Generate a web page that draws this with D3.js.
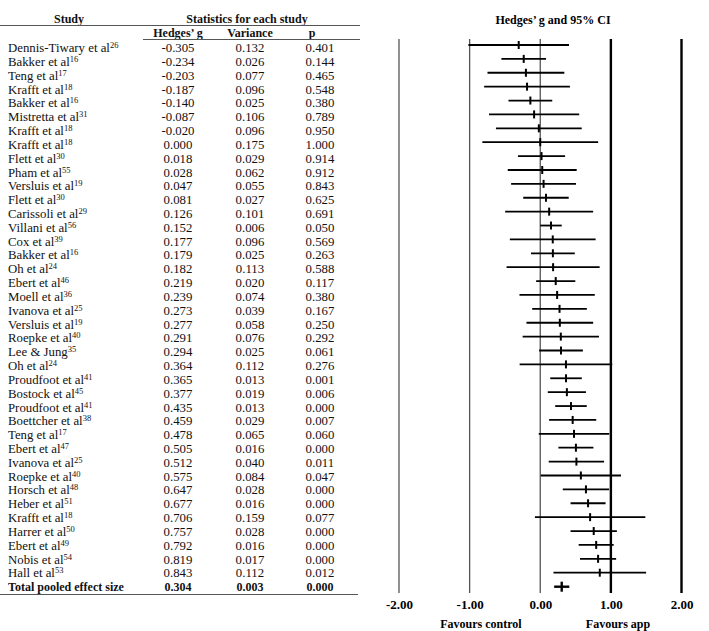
<!DOCTYPE html>
<html>
<head>
<meta charset="utf-8">
<script src="https://cdn.jsdelivr.net/npm/d3@7"></script>
<style>
  body { margin: 0; background: #fff; }
  svg { font-family: "Liberation Serif", "Times New Roman", serif; }
</style>
</head>
<body>
<div id="chart"></div>
<script>
const studies = [
    "Dennis-Tiwary et al", "Bakker et al", "Teng et al", "Krafft et al", "Bakker et al",
    "Mistretta et al", "Krafft et al", "Krafft et al", "Flett et al", "Pham et al",
    "Versluis et al", "Flett et al", "Carissoli et al", "Villani et al", "Cox et al",
    "Bakker et al", "Oh et al", "Ebert et al", "Moell et al", "Ivanova et al",
    "Versluis et al", "Roepke et al", "Lee & Jung", "Oh et al", "Proudfoot et al",
    "Bostock et al", "Proudfoot et al", "Boettcher et al", "Teng et al", "Ebert et al",
    "Ivanova et al", "Roepke et al", "Horsch et al", "Heber et al", "Krafft et al",
    "Harrer et al", "Ebert et al", "Nobis et al", "Hall et al"
];
const refs = [
    "26", "16", "17", "18", "16", "31", "18", "18", "30", "55",
    "19", "30", "29", "56", "39", "16", "24", "46", "36", "25",
    "19", "40", "35", "24", "41", "45", "41", "38", "17", "47",
    "25", "40", "48", "51", "18", "50", "49", "54", "53"
];
const hedgesG = [
    -0.305, -0.234, -0.203, -0.187, -0.140, -0.087, -0.020, 0.000, 0.018, 0.028,
    0.047, 0.081, 0.126, 0.152, 0.177, 0.179, 0.182, 0.219, 0.239, 0.273,
    0.277, 0.291, 0.294, 0.364, 0.365, 0.377, 0.435, 0.459, 0.478, 0.505,
    0.512, 0.575, 0.647, 0.677, 0.706, 0.757, 0.792, 0.819, 0.843
];
const variances = [
    0.132, 0.026, 0.077, 0.096, 0.025, 0.106, 0.096, 0.175, 0.029, 0.062,
    0.055, 0.027, 0.101, 0.006, 0.096, 0.025, 0.113, 0.020, 0.074, 0.039,
    0.058, 0.076, 0.025, 0.112, 0.013, 0.019, 0.013, 0.029, 0.065, 0.016,
    0.040, 0.084, 0.028, 0.016, 0.159, 0.028, 0.016, 0.017, 0.112
];
const pValues = [
    0.401, 0.144, 0.465, 0.548, 0.380, 0.789, 0.950, 1.000, 0.914, 0.912,
    0.843, 0.625, 0.691, 0.050, 0.569, 0.263, 0.588, 0.117, 0.380, 0.167,
    0.250, 0.292, 0.061, 0.276, 0.001, 0.006, 0.000, 0.007, 0.060, 0.000,
    0.011, 0.047, 0.000, 0.000, 0.077, 0.000, 0.000, 0.000, 0.012
];
const pooled = { label: "Total pooled effect size", g: 0.304, variance: 0.003, p: 0.000 };
const xTicks = [-2, -1, 0, 1, 2];

const data = studies.map((s, i) => ({
    study: s,
    ref: refs[i],
    g: hedgesG[i],
    variance: variances[i],
    p: pValues[i]
}));
// 95% CI from the variance
const ci = d => {
    const half = 1.96 * Math.sqrt(d.variance);
    return [d.g - half, d.g + half];
};

const width = 709;
const height = 631;

const svg = d3.select("#chart")
    .append("svg")
    .attr("width", width)
    .attr("height", height);

// plot rows
const y = d3.scalePoint()
    .domain(d3.range(data.length))
    .range([45, 572.7]);
// table rows (text centres)
const yText = d3.scalePoint()
    .domain(d3.range(data.length))
    .range([47.7, 573]);

const x = d3.scaleLinear()
    .domain([-2, 2])
    .range([399, 681.5]);

const pooledY = 586.7;
// hyphen instead of unicode minus, like the original
const f3 = v => d3.format(".3f")(v).replace("\u2212", "-");
const f2 = v => d3.format(".2f")(v).replace("\u2212", "-");

// ---- table ----
const colG = 178, colVar = 250, colP = 320;
const table = svg.append("g").attr("font-size", 12.8).attr("fill", "#111");

table.append("text")
    .attr("x", 69).attr("y", 22.5)
    .attr("text-anchor", "middle")
    .attr("font-size", 12)
    .attr("font-weight", "bold")
    .text("Study");
table.append("text")
    .attr("x", 247).attr("y", 22.5)
    .attr("text-anchor", "middle")
    .attr("font-size", 12)
    .attr("font-weight", "bold")
    .text("Statistics for each study");
table.append("line")
    .attr("x1", 0).attr("x2", 360)
    .attr("y1", 25.5).attr("y2", 25.5)
    .attr("stroke", "#555").attr("stroke-width", 1.2);

[["Hedges\u2019 g", colG], ["Variance", colVar], ["p", 312]].forEach(([t, cx]) => {
    table.append("text")
        .attr("x", cx).attr("y", 36.5)
        .attr("text-anchor", "middle")
        .attr("font-size", 12)
        .attr("font-weight", "bold")
        .text(t);
});
table.append("line")
    .attr("x1", 143).attr("x2", 360)
    .attr("y1", 39.5).attr("y2", 39.5)
    .attr("stroke", "#555").attr("stroke-width", 1.2);

const rows = table.selectAll("g.row")
    .data(data)
    .join("g")
    .attr("class", "row")
    .attr("transform", (d, i) => "translate(0," + (yText(i) + 4.4) + ")");

const name = rows.append("text")
    .attr("x", 8);
name.append("tspan").text(d => d.study);
name.append("tspan")
    .attr("dy", -4)
    .attr("font-size", 8.5)
    .text(d => d.ref);

rows.append("text").attr("x", colG).attr("text-anchor", "middle").text(d => f3(d.g));
rows.append("text").attr("x", colVar).attr("text-anchor", "middle").text(d => f3(d.variance));
rows.append("text").attr("x", colP).attr("text-anchor", "middle").text(d => f3(d.p));

const total = table.append("g")
    .attr("transform", "translate(0," + (pooledY + 4) + ")")
    .attr("font-size", 12)
    .attr("font-weight", "bold");
total.append("text").attr("x", 8).text(pooled.label);
total.append("text").attr("x", colG).attr("text-anchor", "middle").text(f3(pooled.g));
total.append("text").attr("x", colVar).attr("text-anchor", "middle").text(f3(pooled.variance));
total.append("text").attr("x", colP).attr("text-anchor", "middle").text(f3(pooled.p));

table.append("line")
    .attr("x1", 0).attr("x2", 358)
    .attr("y1", 594.5).attr("y2", 594.5)
    .attr("stroke", "#555").attr("stroke-width", 1.2);

// ---- forest plot ----
const plot = svg.append("g");

plot.append("text")
    .attr("x", 553).attr("y", 24)
    .attr("text-anchor", "middle")
    .attr("font-size", 12)
    .attr("font-weight", "bold")
    .text("Hedges\u2019 g and 95% CI");

plot.selectAll("line.ref")
    .data(xTicks)
    .join("line")
    .attr("class", "ref")
    .attr("x1", d => x(d)).attr("x2", d => x(d))
    .attr("y1", 39).attr("y2", 593)
    .attr("stroke", d => d >= 1 ? "#000" : "#555")
    .attr("stroke-width", d => d >= 1 ? 2.4 : 1.3);

const axis = d3.axisBottom(x)
    .tickValues(xTicks)
    .tickSize(0)
    .tickFormat(f2);

plot.append("g")
    .attr("transform", "translate(0,593)")
    .call(axis)
    .call(g => g.select(".domain").remove())
    .call(g => g.selectAll("text")
        .attr("dy", 13)
        .attr("font-family", "Liberation Serif")
        .attr("font-size", 13)
        .attr("font-weight", "bold")
        .attr("fill", "#000"));

plot.append("text")
    .attr("x", 481).attr("y", 628)
    .attr("text-anchor", "middle")
    .attr("font-size", 12)
    .attr("font-weight", "bold")
    .text("Favours control");
plot.append("text")
    .attr("x", 618).attr("y", 628)
    .attr("text-anchor", "middle")
    .attr("font-size", 12)
    .attr("font-weight", "bold")
    .text("Favours app");

const marks = plot.selectAll("g.mark")
    .data(data)
    .join("g")
    .attr("class", "mark");

marks.append("line")
    .attr("x1", d => x(ci(d)[0]))
    .attr("x2", d => x(ci(d)[1]))
    .attr("y1", (d, i) => y(i)).attr("y2", (d, i) => y(i))
    .attr("stroke", "#000")
    .attr("stroke-width", 1.8);

marks.append("line")
    .attr("x1", d => x(d.g)).attr("x2", d => x(d.g))
    .attr("y1", (d, i) => y(i) - 4).attr("y2", (d, i) => y(i) + 4)
    .attr("stroke", "#000")
    .attr("stroke-width", 2);

plot.append("line")
    .attr("x1", x(ci(pooled)[0])).attr("x2", x(ci(pooled)[1]))
    .attr("y1", pooledY).attr("y2", pooledY)
    .attr("stroke", "#000").attr("stroke-width", 2.4);
plot.append("line")
    .attr("x1", x(pooled.g)).attr("x2", x(pooled.g))
    .attr("y1", pooledY - 5).attr("y2", pooledY + 5)
    .attr("stroke", "#000").attr("stroke-width", 2.4);
</script>
</body>
</html>
